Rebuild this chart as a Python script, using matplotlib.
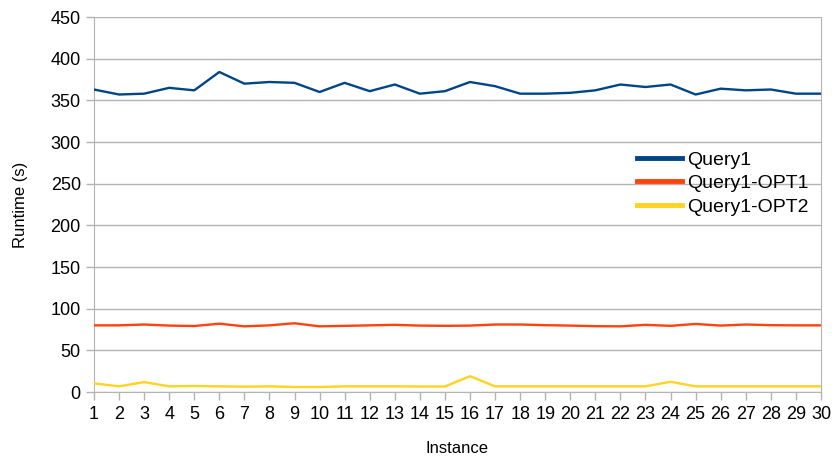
import numpy as np
import matplotlib.pyplot as plt

plt.rcParams['font.family'] = ['Liberation Sans', 'DejaVu Sans']

# Data
instances = list(range(1, 31))
query1 = [363, 357, 358, 365, 362, 384, 370, 372, 371, 360,
          371, 361, 369, 358, 361, 372, 367, 358, 358, 359,
          362, 369, 366, 369, 357, 364, 362, 363, 358, 358]
query1_opt1 = [80, 80, 81, 79.7, 79.2, 82, 78.8, 80, 82.5, 78.8,
               79.4, 80, 80.6, 79.7, 79.4, 79.7, 81, 81, 80.2, 79.7,
               79, 78.8, 80.6, 79.4, 81.7, 79.7, 81, 80.2, 80, 80]
query1_opt2 = [10.4, 6.8, 11.9, 6.8, 7.2, 6.8, 6.4, 6.8, 6, 6,
               6.8, 6.8, 6.8, 6.6, 6.6, 19, 6.8, 6.8, 6.8, 6.8,
               6.8, 6.8, 6.8, 12.3, 6.8, 6.8, 6.8, 6.8, 6.8, 6.8]
series_names = ["Query1", "Query1-OPT1", "Query1-OPT2"]
colors = ["#004586", "#ff420e", "#ffd320"]
yticks = list(range(0, 451, 50))

fig = plt.figure(figsize=(8.36, 4.57), dpi=100)
ax = fig.add_axes([0.1124, 0.1422, 0.8696, 0.8206])

for vals, name, c in zip([query1, query1_opt1, query1_opt2], series_names, colors):
    ax.plot(instances, vals, color=c, lw=1.7, label=name, zorder=3)

ax.set_xlim(1, 30)
ax.set_ylim(0, 450)
ax.set_xticks(instances)
ax.set_yticks(yticks)
ax.yaxis.grid(True, color="#b3b3b3", lw=1)
ax.set_axisbelow(True)

for s in ["left", "right", "bottom"]:
    ax.spines[s].set_color("#b3b3b3")
ax.spines["top"].set_visible(False)
ax.tick_params(axis="both", colors="#b3b3b3", labelcolor="black", labelsize=13, length=6, width=1)
ax.tick_params(axis="x", pad=4)
ax.tick_params(axis="y", pad=3.5)

ax.set_xlabel("Instance", fontsize=12, labelpad=13)
ax.set_ylabel("Runtime (s)", fontsize=12, labelpad=16)

ax.legend(loc="center left", bbox_to_anchor=(0.762, 0.5985), bbox_transform=fig.transFigure,
          frameon=False, fontsize=14, handlelength=2.3, handletextpad=0.28,
          labelspacing=0.3, borderpad=0, borderaxespad=0)
leg = ax.get_legend()
for line in leg.get_lines():
    line.set_linewidth(3.5)

fig.savefig("out.png", dpi=100)
